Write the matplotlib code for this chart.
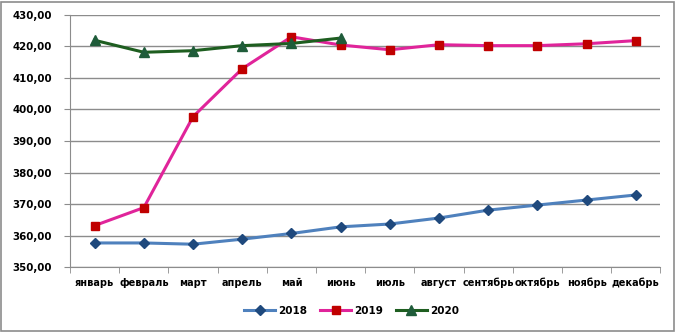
import numpy as np
from matplotlib import pyplot as plt
from matplotlib.patches import Rectangle


months = ['январь', 'февраль', 'март', 'апрель', 'май', 'июнь',
          'июль', 'август', 'сентябрь', 'октябрь', 'ноябрь', 'декабрь']

y2018 = [357.7, 357.7, 357.3, 358.9, 360.7, 362.8,
         363.7, 365.6, 368.1, 369.7, 371.3, 372.9]
y2019 = [363.2, 368.9, 397.7, 412.9, 423.0, 420.4,
         418.9, 420.5, 420.2, 420.2, 420.8, 421.8]
y2020 = [421.9, 418.1, 418.6, 420.2, 420.9, 422.6]

yticks = [350, 360, 370, 380, 390, 400, 410, 420, 430]

plt.rcParams['font.family'] = ['DejaVu Sans']
plt.rcParams['font.weight'] = 'bold'

fig = plt.figure(figsize=(6.76, 3.32), dpi=100)
ax = fig.add_axes([0.1036, 0.195, 0.8734, 0.7607])

x = np.arange(len(months))

ax.plot(x, y2018, color='#4f81bd', linewidth=2.2, marker='D', markersize=5,
        markerfacecolor='#1f497d', markeredgecolor='#1f497d', label='2018')
ax.plot(x, y2019, color='#e0249a', linewidth=2.2, marker='s', markersize=5.5,
        markerfacecolor='#c00000', markeredgecolor='#c00000', label='2019')
ax.plot(x[:len(y2020)], y2020, color='#1e5e20', linewidth=2.2, marker='^',
        markersize=6.5, markerfacecolor='#1f5c3a', markeredgecolor='#1f5c3a',
        label='2020')

ax.set_xlim(-0.5, len(months) - 0.5)
ax.set_ylim(350, 430)
ax.set_yticks(yticks)
ax.set_yticklabels([f'{v},00' for v in yticks])
ax.set_xticks(x)
ax.set_xticklabels(months)
ax.set_xticks(np.arange(-0.5, len(months)), minor=True)
ax.tick_params(axis='x', which='major', length=0, pad=7.5, labelsize=7)
ax.tick_params(axis='x', which='minor', length=4, color='#8c8c8c', direction='out')
ax.tick_params(axis='y', length=4, color='#8c8c8c', labelsize=7.4, pad=9)

ax.grid(axis='y', color='#8c8c8c', linewidth=1)
ax.set_axisbelow(True)
for s in ['top', 'right']:
    ax.spines[s].set_visible(False)
ax.spines['left'].set_color('#8c8c8c')
ax.spines['bottom'].set_color('#8c8c8c')

ax.legend(loc='center', bbox_to_anchor=(0.52, 0.063), bbox_transform=fig.transFigure,
          ncol=3, frameon=False, fontsize=7.5, handlelength=3.0,
          columnspacing=1.2, handletextpad=0.3)

fig.patches.append(Rectangle((0.002, 0.004), 0.995, 0.991, transform=fig.transFigure,
                             fill=False, edgecolor='#8c8c8c', linewidth=1.2))

plt.savefig('out.png', dpi=100)
